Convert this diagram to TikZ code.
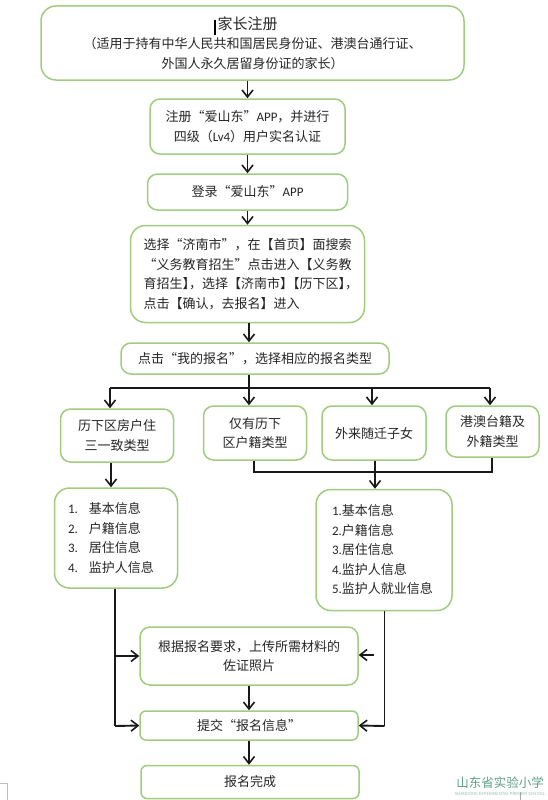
\documentclass[tikz,border=0pt]{standalone}
\usepackage{fontspec}
\setmainfont{Noto Sans CJK SC}
\newfontfamily\latinfont{Carlito}
\usetikzlibrary{arrows.meta}
\definecolor{boxgreen}{HTML}{A0CC80}
\definecolor{schoolgreen}{HTML}{5F9F8C}

\begin{document}
\begin{tikzpicture}[
    x=1pt, y=-1pt,
    block/.style={rectangle, draw=boxgreen, line width=1.5pt, fill=white, text=black!85, align=center, font=\fontsize{13}{19.5}\selectfont, inner sep=0pt, rounded corners=10pt},
    listblock/.style={block, rounded corners=15pt, align=left},
    line/.style={draw, black!90, line width=1.9pt, -{Straight Barb[length=7pt,width=11pt,line width=1.6pt]}},
    trunk/.style={draw, black!90, line width=1.9pt}
]
\useasboundingbox (0,0) rectangle (548,800);

\node [block, minimum width=423pt, minimum height=74pt, rounded corners=15pt] (parent) at (252.5,43) {{\fontsize{15}{20}\selectfont 家长注册}\kern10pt\\（适用于持有中华人民共和国居民身份证、港澳台通行证、\\外国人永久居留身份证的家长）};
\node [block, minimum width=195pt, minimum height=55pt] (register) at (247.5,126.5) {注册“爱山东”{\latinfont APP}，并进行\\四级（{\latinfont Lv4}）用户实名认证};
\node [block, minimum width=200pt, minimum height=36pt, below of=register, node distance=65.5pt] (login) {登录“爱山东”{\latinfont APP}};
\node [block, minimum width=234pt, minimum height=97pt, rounded corners=15pt, below of=login, node distance=82pt, align=left] (search) {选择“济南市”，在【首页】面搜索\\“义务教育招生”点击进入【义务教\\育招生】\kern-6.5pt，选择【济南市】\kern-6.5pt【历下区】\kern-6.5pt，\kern-6.5pt\\点击【确认，去报名】进入};
\node [block, minimum width=268pt, minimum height=31pt] (mine) at (255,358.5) {点击“我的报名”，选择相应的报名类型};

\node [block, minimum width=113pt, minimum height=53pt] (house) at (117,435.5) {历下区房户住\\三一致类型};
\node [block, minimum width=103pt, minimum height=54pt] (huji) at (255,433) {仅有历下\\区户籍类型};
\node [block, minimum width=104pt, minimum height=54pt, right of=huji, node distance=119pt] (migrant) {外来随迁子女};
\node [block, minimum width=93pt, minimum height=51pt] (foreign) at (492.5,431.5) {港澳台籍及\\外籍类型};

\node [listblock, minimum width=123pt, minimum height=100pt, text width=96pt] (infoa) at (116,538) {{\latinfont 1.}\hspace{11pt}基本信息\\{\latinfont 2.}\hspace{11pt}户籍信息\\{\latinfont 3.}\hspace{11pt}居住信息\\{\latinfont 4.}\hspace{11pt}监护人信息};
\node [listblock, minimum width=136pt, minimum height=121pt, text width=104pt] (infob) at (384,550) {{\latinfont 1.}基本信息\\{\latinfont 2.}户籍信息\\{\latinfont 3.}居住信息\\{\latinfont 4.}监护人信息\\{\latinfont 5.}监护人就业信息};

\node [block, minimum width=218pt, minimum height=58pt] (upload) at (249,656) {根据报名要求，上传所需材料的\\佐证照片};
\node [block, minimum width=218pt, minimum height=29pt, rounded corners=6pt, below of=upload, node distance=69.5pt] (submit) {提交“报名信息”};
\node [block, minimum width=218pt, minimum height=33pt, rounded corners=6pt] (finish) at (250,782) {报名完成};

% school mark
\node [text=schoolgreen, font=\fontsize{12.5}{14}\selectfont, inner sep=0pt] (school) at (500,783) {山东省实验小学};
\node [text=schoolgreen!70, font=\fontsize{4.2}{5}\selectfont, inner sep=0pt, below of=school, node distance=11pt] (schooleng) {SHANDONG EXPERIMENTAL PRIMARY SCHOOL};

\coordinate (split) at (249,388);
\coordinate (splita) at (110,388);
\coordinate (splitc) at (372,388);
\coordinate (splitd) at (490,388);
\coordinate (drop) at (111,470);
\coordinate (merge) at (375,472);
\coordinate (mergea) at (254,472);
\coordinate (merged) at (492,472);
\coordinate (turna) at (115,726);
\coordinate (turnb) at (384.5,726);
\coordinate (stub) at (374,655);

\path [line] (register |- parent.south) -- (register.north);
\path [line] (register.south) -- (register.south |- login.north);
\path [line] (login.south) -- (search.north);
\path [line] (split |- search.south) -- (split |- mine.north);

\path [trunk] (split |- mine.south) -- (split);
\path [trunk] (splita) -- (splitd);
\path [line] (splita) -- (splita |- house.north);
\path [line] (split) -- (split |- huji.north);
\path [line] (splitc) -- (splitc |- migrant.north);
\path [line] (splitd) -- (splitd |- foreign.north);

\path [line] (drop |- house.south) -- (drop |- infoa.north);
\path [trunk] (mergea |- huji.south) -- (mergea) -- (merged) -- (merged |- foreign.south);
\path [trunk] (merge |- migrant.south) -- (merge);
\path [line] (merge) -- (merge |- infob.north);

\path [trunk] (turna |- infoa.south) -- (turna);
\path [line] (turna |- upload.west) -- (upload.west);
\path [line] (turna) -- (submit.west);
\path [trunk] (turnb |- infob.south) -- (turnb);
\path [line] (turnb) -- (submit.east);
\path [line] (stub) -- (stub -| upload.east);
\path [line] (upload.south) -- (submit.north);
\path [line] (submit.south) -- (submit.south |- finish.north);

% cursor and page marks
\draw [black, line width=1.2pt] (215,20) -- (215,35);
\draw [black!25, line width=0.8pt] (0,783) -- (7,783) -- (7,800);
\draw [black!35, line width=0.5pt] (520.5,792) -- (520.5,800);
\end{tikzpicture}
\end{document}
